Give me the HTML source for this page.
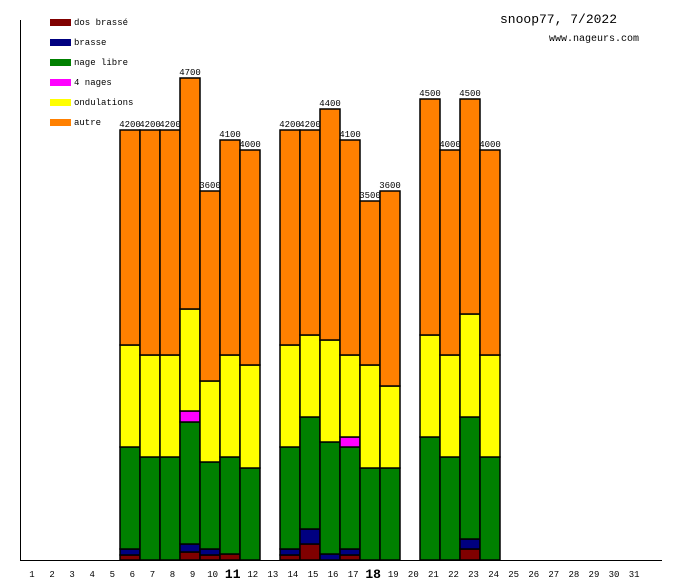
<!DOCTYPE html>
<html><head><style>body{margin:0;background:#fff}svg{display:block}text{font-family:"Liberation Mono","DejaVu Sans Mono",monospace}</style></head>
<body>
<svg width="680" height="580" xmlns="http://www.w3.org/2000/svg" id="s">
<rect width="680" height="580" fill="#fff"/>
<line x1="20.5" y1="20" x2="20.5" y2="560" stroke="#000"/>
<line x1="20" y1="560.5" x2="662" y2="560.5" stroke="#000"/>
<text x="500" y="23" font-size="13">snoop77, 7/2022</text>
<text x="549" y="41" font-size="10">www.nageurs.com</text>
<g font-size="9">
<rect x="50" y="19" width="21" height="7" fill="#800000"/><text x="74" y="25">dos brassé</text>
<rect x="50" y="39" width="21" height="7" fill="#000080"/><text x="74" y="45">brasse</text>
<rect x="50" y="59" width="21" height="7" fill="#008000"/><text x="74" y="65">nage libre</text>
<rect x="50" y="79" width="21" height="7" fill="#ff00ff"/><text x="74" y="85">4 nages</text>
<rect x="50" y="99" width="21" height="7" fill="#ffff00"/><text x="74" y="105">ondulations</text>
<rect x="50" y="119" width="21" height="7" fill="#ff8000"/><text x="74" y="125">autre</text>
</g>
<g id="bars" stroke="#000" stroke-width="1.5"></g>
<g id="lbl" font-size="9" text-anchor="middle"></g>
</svg>
<script>
var C=["#800000","#000080","#008000","#ff00ff","#ffff00","#ff8000"];
// [day, total, [dosTop, brasseTop, libreTop, 4nTop, yellowTop, orangeTop]] (null = absent)
var D=[
[6,4200,[555,549,447,null,345,130]],
[7,4200,[null,null,457,null,355,130]],
[8,4200,[null,null,457,null,355,130]],
[9,4700,[552,544,422,411,309,78]],
[10,3600,[555,549,462,null,381,191]],
[11,4100,[554,null,457,null,355,140]],
[12,4000,[null,null,468,null,365,150]],
[14,4200,[555,549,447,null,345,130]],
[15,4200,[544,529,417,null,335,130]],
[16,4400,[null,554,442,null,340,109]],
[17,4100,[555,549,447,437,355,140]],
[18,3500,[null,null,468,null,365,201]],
[19,3600,[null,null,468,null,386,191]],
[21,4500,[null,null,437,null,335,99]],
[22,4000,[null,null,457,null,355,150]],
[23,4500,[549,539,417,null,314,99]],
[24,4000,[null,null,457,null,355,150]]];
var ns="http://www.w3.org/2000/svg",b=document.getElementById("bars"),l=document.getElementById("lbl");
function mk(t,a,p){var e=document.createElementNS(ns,t);for(var k in a)e.setAttribute(k,a[k]);p.appendChild(e);return e;}
D.forEach(function(d){var x=120+(d[0]-6)*20,bot=560;
for(var i=0;i<6;i++){var t=d[2][i];if(t==null)continue;mk("rect",{x:x,y:t,width:20,height:bot-t,fill:C[i]},b);bot=t;}
var tx=mk("text",{x:x+10,y:d[2][5]-3},l);tx.textContent=d[1];});
for(var i=1;i<=31;i++){var big=(i==11||i==18);var t=mk("text",{x:32+(i-1)*20.07,y:big?578:577,"font-size":big?13:9,"font-weight":big?"bold":"normal"},l);t.textContent=i;}
</script>
</body></html>
